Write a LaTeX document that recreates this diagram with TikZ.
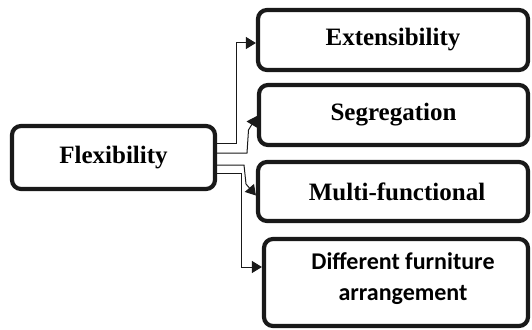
\documentclass[tikz,border=0pt]{standalone}
\usepackage{fontspec}
\setmainfont{Liberation Serif}
\newfontfamily\calibrifont{Carlito}
\usetikzlibrary{arrows.meta}
\begin{document}
\begin{tikzpicture}[x=1pt,y=1pt,
  box/.style={draw=black!90, line width=4.2pt, rounded corners=9pt, inner sep=0pt,
    align=center, font=\bfseries\fontsize{25}{30}\selectfont},
  arr/.style={draw=black!90, line width=1pt, -{Triangle[length=10pt,width=12pt]}}]
\useasboundingbox (0,0) rectangle (532,-329);
\node[box, minimum width=203pt, minimum height=63pt] (flex) at (113.5,-157.5) {Flexibility};
\node[box, minimum width=270pt, minimum height=60pt] (ext) at (393,-40) {Extensibility};
\node[box, minimum width=269pt, minimum height=60pt] (seg) at (393.5,-115) {Segregation};
\node[box, minimum width=270pt, minimum height=59pt] (multi) at (393,-191.5) {\hspace*{8pt}Multi-functional};
\node[box, minimum width=264pt, minimum height=87pt, text depth=12pt,
  font=\calibrifont\bfseries\fontsize{24}{31}\selectfont] (diff) at (396,-282.5)
  {\hspace*{14pt}Different furniture\\\hspace*{14pt}arrangement};
\coordinate (e1) at (236,-43);
\draw[arr] ([yshift=14.5pt]flex.east) -| (e1) -- (e1 -| ext.west);
\draw[arr] ([yshift=4.5pt]flex.east) -- (247,-153) -- (248.5,-130) -- ([yshift=-1pt]seg.west);
\draw[arr] ([yshift=-7.5pt]flex.east) -- (244,-165) -- (246,-184) -- ([yshift=-4pt]multi.west);
\coordinate (d1) at (241,-267);
\draw[arr] ([yshift=-15.5pt]flex.east) -| (d1) -- (d1 -| diff.west);
\end{tikzpicture}
\end{document}
